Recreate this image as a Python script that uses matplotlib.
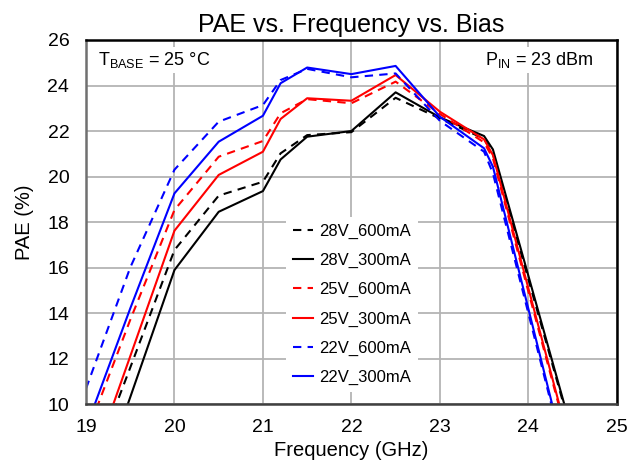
import matplotlib
matplotlib.use("Agg")
import matplotlib.pyplot as plt

plt.rcParams['font.family'] = ['Liberation Sans', 'DejaVu Sans']
plt.rcParams['mathtext.default'] = 'regular'

freq = [19.0, 19.5, 20.0, 20.5, 21.0, 21.2, 21.5, 22.0, 22.5, 23.0, 23.5, 23.6, 24.0, 24.5]

pae_28v_600 = [6.5, 11.6, 16.77, 19.16, 19.77, 21.02, 21.82, 21.95, 23.46, 22.55, 21.66, 21.0, 15.5, 8.6]
pae_28v_300 = [4.8, 10.3, 15.89, 18.45, 19.36, 20.75, 21.75, 22.0, 23.7, 22.6, 21.78, 21.19, 15.65, 8.7]
pae_25v_600 = [8.6, 13.7, 18.53, 20.87, 21.56, 22.78, 23.4, 23.22, 24.17, 22.75, 21.5, 20.8, 14.95, 7.7]
pae_25v_300 = [6.6, 12.1, 17.62, 20.07, 21.09, 22.53, 23.44, 23.33, 24.46, 22.85, 21.63, 20.94, 15.1, 7.8]
pae_22v_600 = [10.68, 16.0, 20.3, 22.41, 23.14, 24.24, 24.73, 24.36, 24.53, 22.45, 21.09, 20.14, 14.0, 6.3]
pae_22v_300 = [8.95, 14.2, 19.26, 21.53, 22.67, 24.1, 24.79, 24.5, 24.86, 22.63, 21.24, 20.43, 14.2, 6.4]

series = [
    ("28V_600mA", pae_28v_600, "black", "--"),
    ("28V_300mA", pae_28v_300, "black", "-"),
    ("25V_600mA", pae_25v_600, "red", "--"),
    ("25V_300mA", pae_25v_300, "red", "-"),
    ("22V_600mA", pae_22v_600, "blue", "--"),
    ("22V_300mA", pae_22v_300, "blue", "-"),
]

fig = plt.figure(figsize=(6.3, 4.65), dpi=100)
ax = fig.add_axes([0.1365, 0.131, 0.8425, 0.783])

for label, vals, color, ls in series:
    if ls == "--":
        ax.plot(freq, vals, color=color, linestyle="--", dashes=(4, 3),
                linewidth=1.5, label=label)
    else:
        ax.plot(freq, vals, color=color, linestyle="-", linewidth=1.5, label=label)

ax.set_xlim(19, 25)
ax.set_ylim(10, 26)
ax.set_xticks(range(19, 26))
ax.set_yticks(range(10, 27, 2))
ax.grid(True, color='#b4b4b4', linewidth=1.3)
ax.set_axisbelow(True)
for s in ax.spines.values():
    s.set_linewidth(1.8)
    s.set_color('black')
ax.spines['left'].set_color('#707070')
ax.spines['bottom'].set_color('#404040')
ax.tick_params(axis='y', length=0, labelsize=14, pad=12)
ax.tick_params(axis='x', length=0, labelsize=14, pad=11)

ax.set_title("PAE vs. Frequency vs. Bias", fontsize=18, pad=6)
ax.set_xlabel("Frequency (GHz)", fontsize=14.5, labelpad=3)
ax.set_ylabel("PAE (%)", fontsize=14.5, labelpad=10)

ax.text(0.022, 0.945, r"T$_{BASE}$ = 25 °C", transform=ax.transAxes,
        fontsize=13, ha='left', va='center',
        bbox=dict(facecolor='white', edgecolor='none', pad=2))
ax.text(0.956, 0.945, r"P$_{IN}$ = 23 dBm", transform=ax.transAxes,
        fontsize=13, ha='right', va='center',
        bbox=dict(facecolor='white', edgecolor='none', pad=2))

leg = ax.legend(loc='upper left', bbox_to_anchor=(0.3766, 0.514), frameon=True,
                fontsize=12, handlelength=1.2, handletextpad=0.42,
                labelspacing=0.85, borderpad=0.4, borderaxespad=0,
                fancybox=False)
leg.get_frame().set_edgecolor('none')
leg.get_frame().set_facecolor('white')
leg.get_frame().set_alpha(1.0)

fig.savefig("out.png", dpi=100)
